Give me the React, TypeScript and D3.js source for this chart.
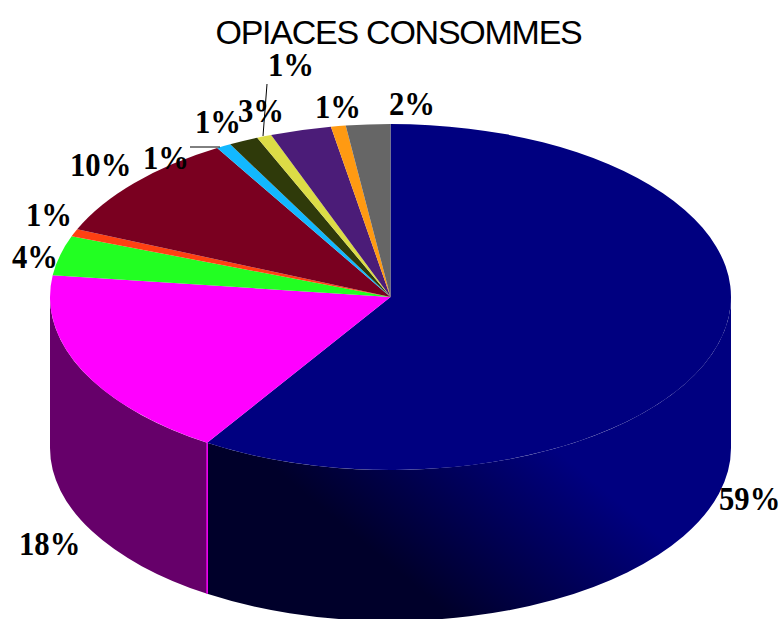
/**
 * OPIACES CONSOMMES: 3D-looking pie, drawn with d3.pie/d3.arc on a squashed disc.
 */
import * as d3 from 'd3';

const title = 'OPIACES CONSOMMES';
// clockwise from 12 o'clock
const sliceValues = [59.05, 17.95, 3.7, 0.7, 10.1, 0.7, 1.4, 0.7, 2.9, 0.7, 2.1];
const sliceLabels = ['59%', '18%', '4%', '1%', '10%', '1%', '1%', '1%', '3%', '1%', '2%'];
const sliceColors = ['#000080', '#ff00ff', '#22ff22', '#ff4012', '#7a0020', '#12b8ff', '#2f3a0a', '#dcdc46', '#4b1c78', '#ff9a12', '#666666'];

// hand placed like the original (left edge, baseline)
const labelSpots: [number, number][] = [
  [719, 510], [19, 555], [12, 268], [26, 226], [70, 176], [143, 169],
  [195, 133], [268, 76], [238, 122], [315, 118], [389, 115],
];

const W = 782;
const H = 619;
const cx = 390.5;
const cy = 297;
const rx = 340.5;
const ry = 173;
const depth = 151;

const arcs = d3.pie<number>().sort(null)(sliceValues);
const arcGen = d3.arc<d3.PieArcDatum<number>>().innerRadius(0).outerRadius(rx);

// front wall for one slice, only the part between 90deg and 270deg faces us
function wallPath(start: number, end: number) {
  const a0 = Math.max(start, Math.PI / 2);
  const a1 = Math.min(end, (3 * Math.PI) / 2);
  if (a1 <= a0) return null;
  const px = (a: number) => cx + rx * Math.sin(a);
  const py = (a: number) => cy - ry * Math.cos(a);
  return (
    `M${px(a0)},${py(a0)}` +
    `A${rx},${ry} 0 0 1 ${px(a1)},${py(a1)}` +
    `L${px(a1)},${py(a1) + depth}` +
    `A${rx},${ry} 0 0 0 ${px(a0)},${py(a0) + depth}Z`
  );
}

const wallFill = ['url(#blueWall)', '#66006a'];

export default function App() {
  const seamX = cx + rx * Math.sin(arcs[0].endAngle);
  const seamY = cy - ry * Math.cos(arcs[0].endAngle);

  return (
    <svg width={W} height={H} style={{ position: 'absolute', left: 0, top: 0, background: '#fff' }}>
      <defs>
        <linearGradient id="blueWall" gradientUnits="userSpaceOnUse" x1={420} y1={590} x2={545} y2={440}>
          <stop offset="0" stopColor="#00002a" />
          <stop offset="1" stopColor="#000080" />
        </linearGradient>
      </defs>

      <text x={398.5} y={43.5} textAnchor="middle" fontFamily="Liberation Sans" fontSize={34} letterSpacing={-1.25} fill="#000">
        {title}
      </text>

      {arcs.map((a, i) => {
        const d = wallPath(a.startAngle, a.endAngle);
        return d ? <path key={i} d={d} fill={wallFill[i] ?? sliceColors[i]} /> : null;
      })}
      <line x1={seamX} y1={seamY} x2={seamX} y2={seamY + depth} stroke="#ff00ff" strokeWidth={1.5} />

      <g transform={`translate(${cx},${cy}) scale(1,${ry / rx})`}>
        {arcs.map((a, i) => (
          <path key={i} d={arcGen(a) ?? ''} fill={sliceColors[i]} />
        ))}
      </g>

      {/* leader lines */}
      <line x1={190} y1={147} x2={220} y2={147} stroke="#000" strokeWidth={1} />
      <line x1={267} y1={84} x2={263} y2={136} stroke="#000" strokeWidth={1} />

      {/* the source text is a bit narrow and tall, so squeeze it sideways */}
      {sliceLabels.map((t, i) => (
        <text
          key={i}
          transform={`translate(${labelSpots[i][0]},${labelSpots[i][1]}) scale(0.93,1)`}
          fontFamily="Liberation Serif"
          fontWeight="bold"
          fontSize={33}
          fill="#000"
        >
          {t}
        </text>
      ))}
    </svg>
  );
}
